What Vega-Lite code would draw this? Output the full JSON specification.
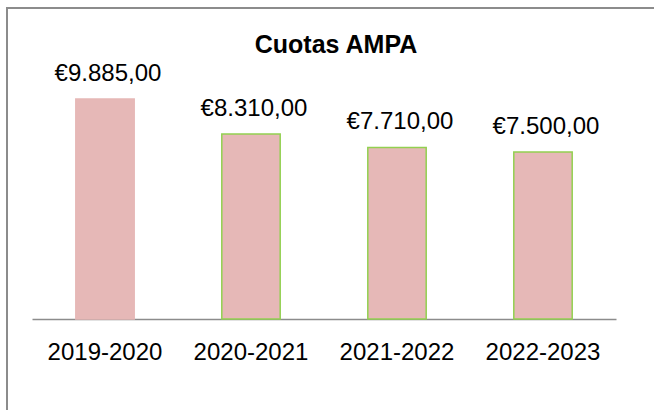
{
  "$schema": "https://vega.github.io/schema/vega-lite/v6.json",
  "autosize": "none",
  "padding": {"left": 7, "top": 8, "right": 0, "bottom": 0},
  "width": 700,
  "height": 420,
  "background": "white",
  "config": {
    "locale": {"number": {"decimal": ",", "thousands": ".", "grouping": [3], "currency": ["€", ""]}},
    "view": {"stroke": "#8c8c8c", "strokeWidth": 2},
    "font": "Liberation Sans"
  },
  "title": {
    "text": "Cuotas AMPA",
    "fontSize": 25,
    "fontWeight": "bold",
    "font": "Liberation Sans",
    "color": "black",
    "anchor": "middle",
    "frame": "group",
    "dx": -21,
    "offset": -70,
    "baseline": "alphabetic"
  },
  "data": {
    "values": [
      {"temporada": "2019-2020", "cuota": 9885},
      {"temporada": "2020-2021", "cuota": 8310},
      {"temporada": "2021-2022", "cuota": 7710},
      {"temporada": "2022-2023", "cuota": 7500}
    ]
  },
  "encoding": {
    "x": {
      "field": "temporada",
      "type": "nominal",
      "sort": null,
      "scale": {"range": [25, 609], "paddingInner": 0.6, "paddingOuter": 0.3},
      "axis": {
        "title": null,
        "orient": "bottom",
        "offset": -109,
        "labelAngle": 0,
        "labelFontSize": 24,
        "labelFont": "Liberation Sans",
        "labelColor": "black",
        "labelPadding": 21,
        "ticks": false,
        "domainColor": "#8c8c8c",
        "domainWidth": 1.5
      }
    },
    "y": {
      "field": "cuota",
      "type": "quantitative",
      "scale": {"domain": [-4898, 13974], "nice": false, "zero": false},
      "axis": null
    }
  },
  "layer": [
    {
      "mark": {"type": "bar", "fill": "#e6b8b7", "strokeWidth": 1.5},
      "encoding": {
        "stroke": {
          "condition": {"test": "datum.temporada === '2019-2020'", "value": "#e6b8b7"},
          "value": "#92d050"
        }
      }
    },
    {
      "mark": {"type": "text", "baseline": "alphabetic", "dy": -18, "dx": 3, "fontSize": 24, "color": "black"},
      "encoding": {
        "text": {"field": "cuota", "type": "quantitative", "format": "$,.2f"}
      }
    }
  ]
}
